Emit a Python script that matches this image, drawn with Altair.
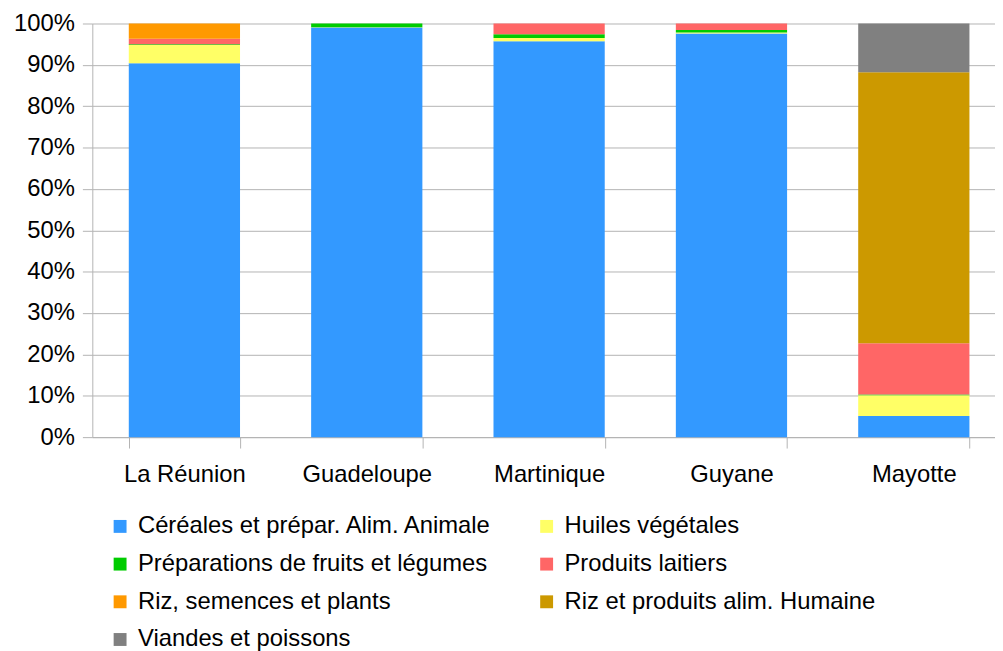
import altair as alt
import pandas as pd

regions = ["La Réunion", "Guadeloupe", "Martinique", "Guyane", "Mayotte"]
series = [
    "Céréales et prépar. Alim. Animale",
    "Huiles végétales",
    "Préparations de fruits et légumes",
    "Produits laitiers",
    "Riz, semences et plants",
    "Riz et produits alim. Humaine",
    "Viandes et poissons",
]
colors = ["#3399ff", "#ffff66", "#00cc00", "#ff6666", "#ff9900", "#cc9900", "#808080"]

cereales = [90.4, 99.0, 95.7, 97.6, 5.1]
huiles = [4.4, 0.1, 0.8, 0.2, 5.0]
preparations = [0.2, 0.9, 0.9, 0.6, 0.2]
laitiers = [1.3, 0.0, 2.6, 1.6, 12.4]
riz_semences = [3.7, 0.0, 0.0, 0.0, 0.0]
riz_humaine = [0.0, 0.0, 0.0, 0.0, 65.5]
viandes = [0.0, 0.0, 0.0, 0.0, 11.8]

values = [cereales, huiles, preparations, laitiers, riz_semences, riz_humaine, viandes]

rows = []
for si, (s, vals) in enumerate(zip(series, values)):
    for r, v in zip(regions, vals):
        if v > 0:
            rows.append({"region": r, "serie": s, "value": v, "idx": si})
df = pd.DataFrame(rows)

font = "Liberation Sans"

chart = (
    alt.Chart(df)
    .mark_bar()
    .encode(
        x=alt.X(
            "region:N",
            sort=regions,
            title=None,
            scale=alt.Scale(range=[0, 921], paddingInner=0.39, paddingOuter=0.2),
            axis=alt.Axis(
                labelAngle=0,
                labelFontSize=24,
                labelFont=font,
                labelColor="#000000",
                labelPadding=15,
                tickBand="extent",
                tickSize=11,
                tickColor="#b3b3b3",
                domainColor="#b3b3b3",
                grid=False,
            ),
        ),
        y=alt.Y(
            "value:Q",
            stack="normalize",
            title=None,
            scale=alt.Scale(domain=[0, 1]),
            axis=alt.Axis(
                format=".0%",
                values=[i / 10 for i in range(11)],
                labelFontSize=24,
                labelFont=font,
                labelColor="#000000",
                labelPadding=8,
                tickSize=10,
                tickColor="#b3b3b3",
                domainColor="#b3b3b3",
                gridColor="#b3b3b3",
                grid=True,
            ),
        ),
        color=alt.Color(
            "serie:N",
            scale=alt.Scale(domain=series, range=colors),
            legend=alt.Legend(
                title=None,
                orient="none",
                direction="horizontal",
                legendX=16,
                legendY=495,
                columns=2,
                symbolType="square",
                symbolSize=169,
                symbolStrokeWidth=0,
                labelFontSize=24,
                labelFont=font,
                labelColor="#000000",
                labelOffset=6,
                rowPadding=14,
                columnPadding=42,
                padding=0,
                labelLimit=600,
            ),
        ),
        order=alt.Order("idx:Q"),
    )
    .properties(
        width=910,
        height=417,
        autosize=alt.AutoSizeParams(type="none"),
        padding={"left": 85, "top": 13, "right": 0, "bottom": 215},
    )
    .configure_view(stroke=None)
)

chart.save("out.html", embed_options={"renderer": "svg", "actions": False})
